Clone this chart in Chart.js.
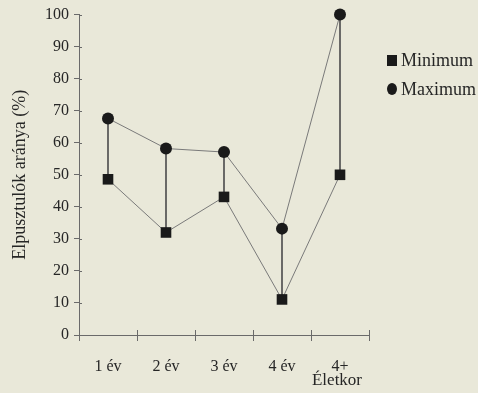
<!DOCTYPE html>
<html>
<head>
<meta charset="utf-8">
<script src="https://cdn.jsdelivr.net/npm/chart.js@4/dist/chart.umd.min.js"></script>
<style>
  html, body { margin: 0; padding: 0; background: #e9e8d9; }
  #wrap { width: 478px; height: 393px; }
</style>
</head>
<body>
<div id="wrap"><canvas id="c" width="478" height="393"></canvas></div>
<script>
const categories = ['1 év', '2 év', '3 év', '4 év', '4+'];
const minimumValues = [48.6, 32.0, 43.1, 11.1, 50.0];
const maximumValues = [67.6, 58.2, 57.1, 33.2, 100.0];
const yTicks = [0, 10, 20, 30, 40, 50, 60, 70, 80, 90, 100];
const seriesNames = ['Minimum', 'Maximum'];
const xTitle = 'Életkor';
const yTitle = 'Elpusztulók aránya (%)';

const FONT = "'Liberation Serif', 'Times New Roman', serif";
const AXIS = '#6a6a6a';
const TEXT = '#262626';

const bgPlugin = {
  id: 'bg',
  beforeDraw(chart) {
    const ctx = chart.ctx;
    ctx.save();
    ctx.fillStyle = '#e9e8d9';
    ctx.fillRect(0, 0, chart.width, chart.height);
    ctx.restore();
  }
};

const extras = {
  id: 'extras',
  afterDraw(chart) {
    const ctx = chart.ctx;
    const x = chart.scales.x, y = chart.scales.y;
    ctx.save();
    ctx.strokeStyle = AXIS;
    ctx.lineWidth = 1;
    ctx.beginPath();
    y.ticks.forEach((t) => {
      const py = Math.round(y.getPixelForValue(t.value)) + 0.5;
      ctx.moveTo(x.left, py);
      ctx.lineTo(x.left + 3, py);
    });
    for (let i = 0; i <= categories.length; i++) {
      const px = Math.round(x.getPixelForValue(i - 0.5)) + 0.5;
      ctx.moveTo(px, y.bottom);
      ctx.lineTo(px, y.bottom - 5);
    }
    ctx.stroke();
    // x-axis title under the last category
    ctx.fillStyle = TEXT;
    ctx.font = '17px ' + FONT;
    ctx.textAlign = 'center';
    ctx.textBaseline = 'middle';
    ctx.fillText(xTitle, x.getPixelForValue(categories.length - 1) - 3, 381);
    ctx.restore();
  }
};

const legendPlugin = {
  id: 'customLegend',
  afterDraw(chart) {
    const ctx = chart.ctx;
    const ds = chart.data.datasets;
    const items = [ds[0], ds[1]];
    const x0 = 392, ys = [60, 89];
    ctx.save();
    ctx.font = '18px ' + FONT;
    ctx.textBaseline = 'middle';
    ctx.textAlign = 'left';
    items.forEach((d, i) => {
      ctx.fillStyle = '#1a1a1a';
      if (d.pointStyle === 'rect') {
        ctx.fillRect(x0 - 5, ys[i] - 5, 10, 11);
      } else {
        ctx.beginPath();
        ctx.ellipse(x0, ys[i], 5, 6, 0, 0, Math.PI * 2);
        ctx.fill();
      }
      ctx.fillStyle = TEXT;
      ctx.fillText(d.label, x0 + 9, ys[i] + 1);
    });
    ctx.restore();
  }
};

new Chart(document.getElementById('c'), {
  data: {
    labels: categories,
    datasets: [
      {
        type: 'line',
        label: seriesNames[0],
        data: minimumValues,
        borderColor: '#7a7a7a',
        borderWidth: 1,
        pointStyle: 'rect',
        pointRadius: 7.5,
        pointBackgroundColor: '#1a1a1a',
        pointBorderColor: '#1a1a1a',
        pointBorderWidth: 0,
        tension: 0,
        clip: false,
        order: 1
      },
      {
        type: 'line',
        label: seriesNames[1],
        data: maximumValues,
        borderColor: '#7a7a7a',
        borderWidth: 1,
        pointStyle: 'circle',
        pointRadius: 6,
        pointBackgroundColor: '#1a1a1a',
        pointBorderColor: '#1a1a1a',
        pointBorderWidth: 0,
        tension: 0,
        clip: false,
        order: 0
      },
      {
        type: 'bar',
        label: 'range',
        data: minimumValues.map((m, i) => [m, maximumValues[i]]),
        backgroundColor: '#505050',
        borderWidth: 0,
        barThickness: 1,
        clip: false,
        order: 2
      }
    ]
  },
  options: {
    responsive: false,
    animation: false,
    layout: { padding: { top: 14, right: 109, bottom: 0, left: 0 } },
    plugins: {
      legend: { display: false },
      tooltip: { enabled: false }
    },
    scales: {
      x: {
        type: 'category',
        offset: true,
        grid: {
          display: true,
          offset: true,
          drawOnChartArea: false,
          drawTicks: true,
          tickLength: 6,
          color: AXIS
        },
        border: { display: true, color: AXIS, width: 1 },
        ticks: {
          color: TEXT,
          padding: 16,
          maxRotation: 0,
          font: { family: FONT, size: 16 }
        },
        afterFit(scale) { scale.height = 58; }
      },
      y: {
        min: 0,
        max: 100,
        grid: {
          display: true,
          drawOnChartArea: false,
          drawTicks: true,
          tickLength: 5,
          color: AXIS
        },
        border: { display: true, color: AXIS, width: 1 },
        afterBuildTicks(scale) { scale.ticks = yTicks.map(v => ({ value: v })); },
        ticks: {
          color: TEXT,
          padding: 5,
          font: { family: FONT, size: 16 }
        },
        title: {
          display: true,
          text: yTitle,
          color: TEXT,
          padding: { top: 9, bottom: 0 },
          font: { family: FONT, size: 18 }
        },
        afterFit(scale) { scale.width = 79; }
      }
    }
  },
  plugins: [bgPlugin, extras, legendPlugin]
});
</script>
</body>
</html>
